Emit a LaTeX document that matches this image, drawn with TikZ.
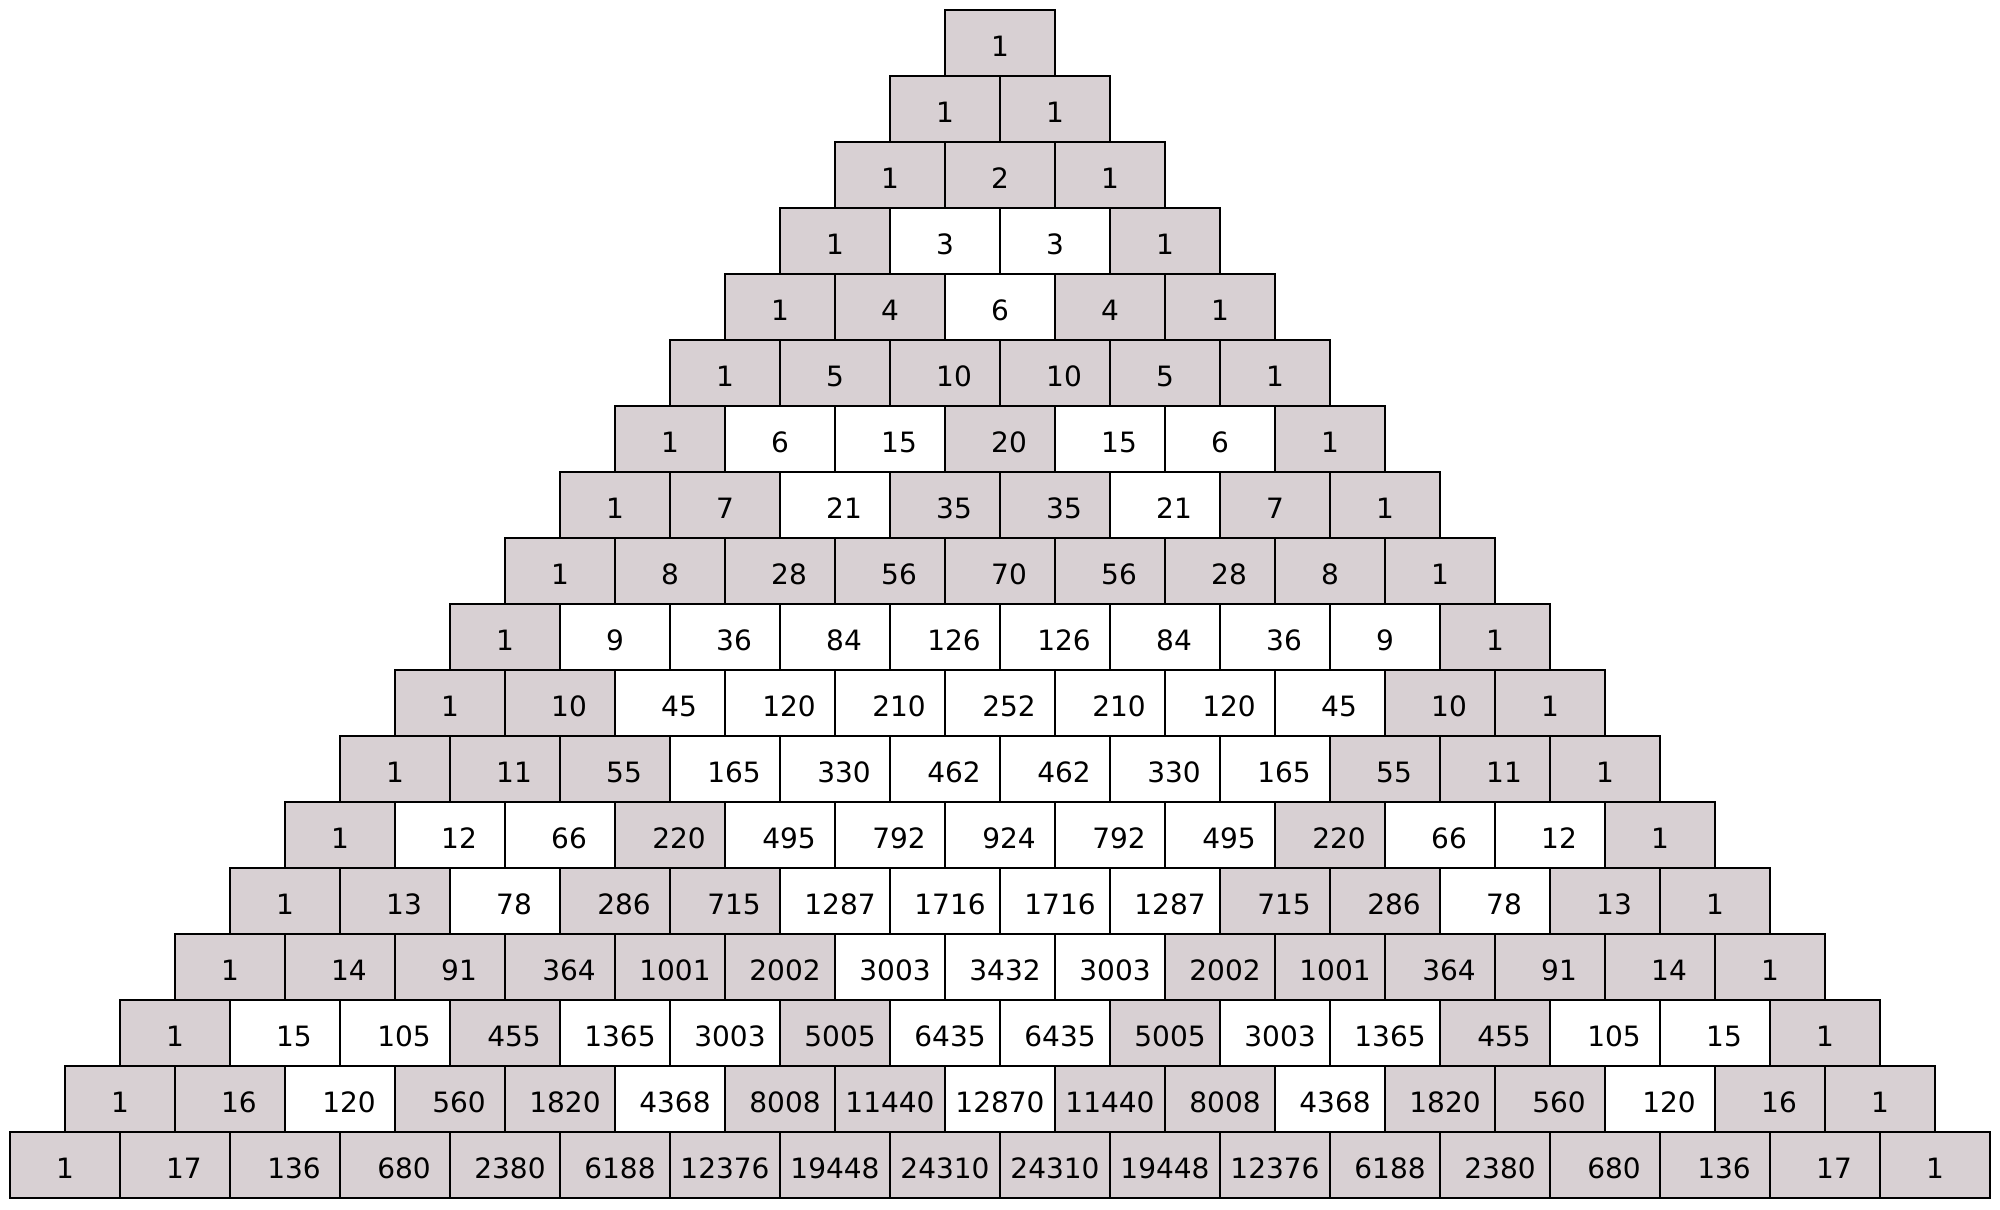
\documentclass[tikz,border=0pt]{standalone}
\usepackage{fontspec}
\setmainfont{DejaVu Sans}
\newcount\binc
\newcount\bint
\definecolor{cellgray}{HTML}{D8D0D3}
\begin{document}
\begin{tikzpicture}[x=0.5pt,y=-0.5pt,
  cell/.style={draw=black, line width=1.2pt, minimum width=55pt, minimum height=33pt, inner sep=0pt, outer sep=0pt},
  num/.style={font=\fontsize{14}{16}\selectfont, inner sep=0pt}]
\useasboundingbox (0,0) rectangle (2000,1209);
\foreach \rowi in {0,...,17}{
  \global\binc=1
  \foreach \coli in {0,...,\rowi}{
    \bint=\binc \divide\bint by 3 \multiply\bint by 3
    \ifnum\bint=\binc \def\cellcol{white}\else\def\cellcol{cellgray}\fi
    \ifnum\binc<10 \def\off{0}\else\ifnum\binc<1000 \def\off{9}\else\ifnum\binc<10000 \def\off{5}\else\def\off{0}\fi\fi\fi
    \pgfmathsetmacro\cx{10+(17-\rowi)*55+\coli*110+55}
    \pgfmathsetmacro\cy{10+\rowi*66+33}
    \node[cell, fill=\cellcol] (c-\rowi-\coli) at (\cx,\cy) {};
    \node[num] (t-\rowi-\coli) at ([xshift=\off*0.5pt, yshift=-1.5pt]c-\rowi-\coli.center) {\the\binc};
    \bint=\binc \multiply\bint by \numexpr\rowi-\coli\relax \divide\bint by \numexpr\coli+1\relax
    \global\binc=\bint
  }
}
\end{tikzpicture}
\end{document}
